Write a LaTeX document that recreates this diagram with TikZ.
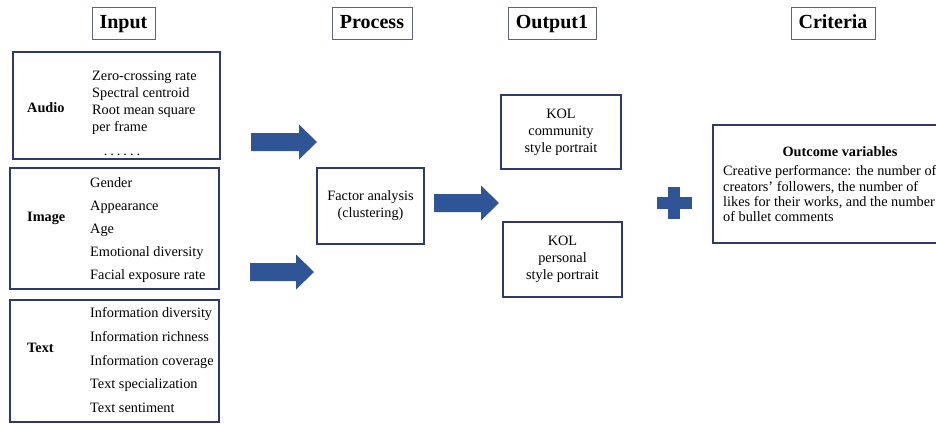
\documentclass[tikz,border=0pt]{standalone}
\usepackage{fontspec}
\setmainfont{Liberation Serif}
\usetikzlibrary{calc}
\definecolor{navy}{HTML}{2E3A6E}
\definecolor{hdgray}{HTML}{5E6678}
\definecolor{arrblue}{HTML}{2F5597}
\tikzset{
  hdbox/.style={draw=hdgray, line width=1pt, minimum height=32pt, inner sep=0pt,
    text height=14pt, text depth=4pt, font=\fontsize{20}{24}\selectfont\bfseries},
  grpbox/.style={draw=navy, line width=1.3pt, inner sep=0pt},
  item/.style={anchor=base west, inner sep=0pt, font=\fontsize{14.3}{17}\selectfont},
  grplabel/.style={anchor=base west, inner sep=0pt, font=\fontsize{14.3}{17}\selectfont\bfseries},
  resbox/.style={draw=navy, line width=1.3pt, align=center, inner sep=0pt,
    font=\fontsize{14.3}{17}\selectfont}
}
\newcommand{\blockarrow}[2]{\fill[arrblue] ($#1+(0,-9)$) -- ++(#2-18,0) -- ++(0,-8.5)
  -- ++(18,17.5) -- ++(-18,17.5) -- ++(0,-8.5) -- ($#1+(0,9)$) -- cycle;}

\begin{document}
\begin{tikzpicture}[x=1pt, y=-1pt]
  \useasboundingbox (0,0) rectangle (936,423);
  \clip (0,0) rectangle (936,423);

  % column headers
  \node[hdbox, minimum width=63pt] (inhd) at (123.5,23) {Input};
  \node[hdbox, minimum width=80pt] (prhd) at (372,23) {Process};
  \node[hdbox, minimum width=88pt] (ouhd) at (552,23) {Output1};
  \node[hdbox, minimum width=84pt] (crhd) at (833,23) {Criteria};

  % input groups
  \node[grpbox, minimum width=207pt, minimum height=107pt] (audio) at (116.5,105.5) {};
  \node[grplabel] (audiolb) at (27,112.5) {Audio};
  \foreach \txt [count=\i] in {Zero-crossing rate, Spectral centroid, Root mean square, per frame}
    \node[item] (au\i) at (92,63.5+17*\i) {\txt};
  \node[item, anchor=base] (audots) at (122,155)
    {.\hspace{3pt}.\hspace{3pt}.\hspace{3pt}.\hspace{3pt}.\hspace{3pt}.};

  \node[grpbox, minimum width=209pt, minimum height=121pt] (image) at (114.5,228.5) {};
  \node[grplabel] (imagelb) at (27,221) {Image};
  \foreach \txt [count=\i] in {Gender, Appearance, Age, Emotional diversity, Facial exposure rate}
    \node[item] (im\i) at (90,164.5+23*\i) {\txt};

  \node[grpbox, minimum width=209pt, minimum height=122pt] (text) at (114.5,361) {};
  \node[grplabel] (textlb) at (27,352.5) {Text};
  \foreach \txt [count=\i] in {Information diversity, Information richness, Information coverage, Text specialization, Text sentiment}
    \node[item] (tx\i) at (90,294+23.7*\i) {\txt};

  % block arrows
  \blockarrow{(251,142)}{66}
  \blockarrow{(250,272)}{64}
  \blockarrow{(434,203)}{65}

  % process and outputs
  \node[resbox, minimum width=107pt, minimum height=76pt] (factor) at (370.5,206)
    {Factor analysis\\(clustering)};
  \node[resbox, minimum width=120pt, minimum height=74pt] (kolcom) at (561,132)
    {KOL\\community\\style portrait};
  \node[resbox, minimum width=119pt, minimum height=75pt] (kolper) at (562.5,259.5)
    {KOL\\personal\\style portrait};

  % plus sign
  \fill[arrblue] (668,187) rectangle (680,219);
  \fill[arrblue] (657,197) rectangle (692,209);

  % criteria
  \node[grpbox, minimum width=232pt, minimum height=118pt] (outcome) at (829,184) {};
  \node[grplabel, anchor=center] (outhd) at (840,152) {Outcome variables};
  \node[item, anchor=north west, align=left, font=\fontsize{14.3}{15.4}\selectfont] (outtx) at (723,165.5)
    {Creative performance: the number of\\creators' followers, the number of\\likes for their works, and the number\\of bullet comments};
\end{tikzpicture}
\end{document}
